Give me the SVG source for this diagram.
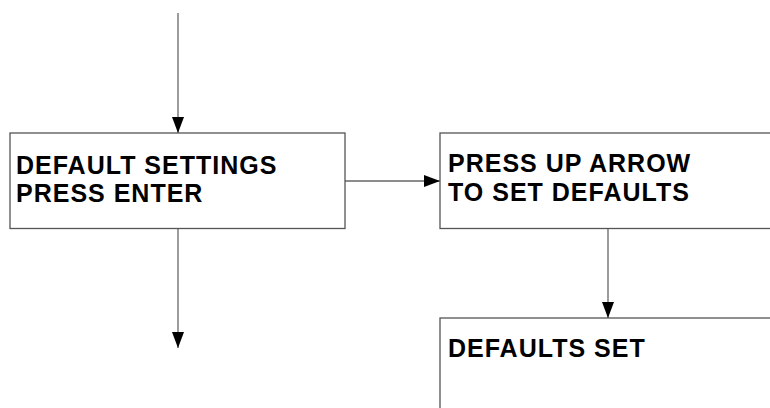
<svg xmlns="http://www.w3.org/2000/svg" width="770" height="408" viewBox="0 0 770 408">
  <style>
    .box { fill: #ffffff; stroke: #555555; stroke-width: 1.3; }
    .wire { fill: none; stroke: #666666; stroke-width: 1.3; }
    .label { font-family: "Liberation Sans", Arial, Helvetica, sans-serif; font-weight: bold; font-size: 25px; letter-spacing: 1px; fill: #000000; }
  </style>
  <defs>
    <marker id="tip" viewBox="0 0 16 12" refX="16" refY="6" markerWidth="16" markerHeight="12" markerUnits="userSpaceOnUse" orient="auto">
      <path d="M0,0 L16,6 L0,12 Z" fill="#000000"/>
    </marker>
  </defs>
  <rect width="770" height="408" fill="#ffffff"/>

  <g id="connectors">
    <line class="wire" x1="178" y1="13" x2="178" y2="133" marker-end="url(#tip)"/>
    <line class="wire" x1="345" y1="181" x2="440" y2="181" marker-end="url(#tip)"/>
    <line class="wire" x1="608" y1="228" x2="608" y2="318" marker-end="url(#tip)"/>
    <line class="wire" x1="178" y1="228" x2="178" y2="348" marker-end="url(#tip)"/>
  </g>

  <g id="default-settings">
    <rect class="box" x="10" y="133" width="335" height="95.5"/>
    <text class="label" x="16" y="174">DEFAULT SETTINGS</text>
    <text class="label" x="16" y="202">PRESS ENTER</text>
  </g>

  <g id="press-up-arrow">
    <rect class="box" x="440" y="133" width="340" height="95.5"/>
    <text class="label" x="448" y="171.5">PRESS UP ARROW</text>
    <text class="label" x="448" y="201">TO SET DEFAULTS</text>
  </g>

  <g id="defaults-set">
    <rect class="box" x="440" y="318" width="340" height="100"/>
    <text class="label" x="448" y="357">DEFAULTS SET</text>
  </g>
</svg>
